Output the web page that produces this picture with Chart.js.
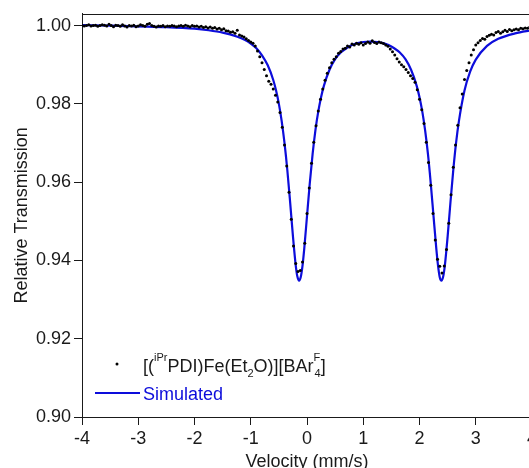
<!DOCTYPE html>
<html>
<head>
<meta charset="utf-8">
<script src="https://cdn.jsdelivr.net/npm/chart.js@4"></script>
<style>
  html, body { margin: 0; padding: 0; background: #fff; overflow: hidden; }
  #wrap { width: 529px; height: 468px; overflow: hidden; }
  canvas { display: block; }
</style>
</head>
<body>
<div id="wrap"><canvas id="moss" width="560" height="480"></canvas></div>
<script>
// ─────────────────────────────
// DATA
// ─────────────────────────────
const velocity = [
  -4.00,-3.96,-3.92,-3.88,-3.84,-3.80,-3.76,-3.72,-3.68,-3.64,
  -3.60,-3.56,-3.52,-3.48,-3.44,-3.40,-3.36,-3.32,-3.28,-3.24,
  -3.20,-3.16,-3.12,-3.08,-3.04,-3.00,-2.96,-2.92,-2.88,-2.84,
  -2.80,-2.76,-2.72,-2.68,-2.64,-2.60,-2.56,-2.52,-2.48,-2.44,
  -2.40,-2.36,-2.32,-2.28,-2.24,-2.20,-2.16,-2.12,-2.08,-2.04,
  -2.00,-1.96,-1.92,-1.88,-1.84,-1.80,-1.76,-1.72,-1.68,-1.64,
  -1.60,-1.56,-1.52,-1.48,-1.44,-1.40,-1.36,-1.32,-1.28,-1.24,
  -1.20,-1.16,-1.12,-1.08,-1.04,-1.00,-0.96,-0.92,-0.88,-0.84,
  -0.80,-0.76,-0.72,-0.68,-0.64,-0.60,-0.56,-0.52,-0.48,-0.44,
  -0.40,-0.36,-0.32,-0.28,-0.24,-0.20,-0.16,-0.12,-0.08,-0.04,
   0.00, 0.04, 0.08, 0.12, 0.16, 0.20, 0.24, 0.28, 0.32, 0.36,
   0.40, 0.44, 0.48, 0.52, 0.56, 0.60, 0.64, 0.68, 0.72, 0.76,
   0.80, 0.84, 0.88, 0.92, 0.96, 1.00, 1.04, 1.08, 1.12, 1.16,
   1.20, 1.24, 1.28, 1.32, 1.36, 1.40, 1.44, 1.48, 1.52, 1.56,
   1.60, 1.64, 1.68, 1.72, 1.76, 1.80, 1.84, 1.88, 1.92, 1.96,
   2.00, 2.04, 2.08, 2.12, 2.16, 2.20, 2.24, 2.28, 2.32, 2.36,
   2.40, 2.44, 2.48, 2.52, 2.56, 2.60, 2.64, 2.68, 2.72, 2.76,
   2.80, 2.84, 2.88, 2.92, 2.96, 3.00, 3.04, 3.08, 3.12, 3.16,
   3.20, 3.24, 3.28, 3.32, 3.36, 3.40, 3.44, 3.48, 3.52, 3.56,
   3.60, 3.64, 3.68, 3.72, 3.76, 3.80, 3.84, 3.88, 3.92, 3.96,
   4.00
];

const transmission = [
  1.0001,0.9999,1.0000,1.0002,0.9999,1.0000,1.0001,0.9998,1.0000,1.0002,
  1.0001,0.9999,1.0003,1.0000,0.9997,1.0001,1.0000,0.9998,1.0002,0.9999,
  0.9996,1.0000,0.9999,1.0001,0.9997,0.9999,1.0002,1.0000,0.9998,1.0003,
  1.0005,1.0000,0.9998,0.9996,0.9999,0.9998,1.0000,0.9997,0.9999,0.9998,
  1.0000,0.9999,0.9997,0.9999,1.0000,0.9998,1.0001,0.9999,0.9997,1.0000,
  0.9998,0.9999,0.9996,0.9998,0.9995,0.9997,0.9994,0.9996,0.9993,0.9995,
  0.9991,0.9993,0.9989,0.9992,0.9987,0.9986,0.9983,0.9984,0.9980,0.9988,
  0.9976,0.9973,0.9971,0.9966,0.9962,0.9958,0.9955,0.9948,0.9935,0.9920,
  0.9905,0.9888,0.9872,0.9858,0.9850,0.9838,0.9822,0.9805,0.9778,0.9740,
  0.9695,0.9641,0.9574,0.9505,0.9437,0.9392,0.9372,0.9374,0.9396,0.9444,
  0.9520,0.9585,0.9648,0.9702,0.9744,0.9782,0.9812,0.9838,0.9860,0.9878,
  0.9892,0.9905,0.9914,0.9920,0.9929,0.9934,0.9940,0.9942,0.9948,0.9945,
  0.9953,0.9950,0.9955,0.9952,0.9956,0.9950,0.9954,0.9958,0.9955,0.9961,
  0.9957,0.9954,0.9958,0.9956,0.9954,0.9950,0.9947,0.9940,0.9933,0.9925,
  0.9915,0.9907,0.9900,0.9895,0.9888,0.9880,0.9872,0.9865,0.9855,0.9836,
  0.9812,0.9785,0.9750,0.9702,0.9650,0.9592,0.9520,0.9452,0.9403,0.9385,
  0.9368,0.9386,0.9428,0.9495,0.9568,0.9638,0.9695,0.9745,0.9790,0.9825,
  0.9862,0.9885,0.9905,0.9925,0.9938,0.9950,0.9956,0.9962,0.9967,0.9965,
  0.9972,0.9975,0.9978,0.9976,0.9982,0.9985,0.9980,0.9984,0.9988,0.9985,
  0.9990,0.9987,0.9989,0.9991,0.9989,0.9993,0.9992,0.9994,0.9993,0.9996,
  0.9995
];

// simulated fit (doublet)
const simVelocity = [
  -4.0,-3.5,-3.0,-2.5,-2.0,-1.75,-1.5,-1.25,-1.1,-1.0,-0.9,-0.8,-0.7,-0.6,-0.55,
  -0.5,-0.45,-0.4,-0.35,-0.3,-0.25,-0.2,-0.17,-0.14,-0.11,-0.08,-0.05,0.0,0.05,
  0.1,0.15,0.2,0.25,0.3,0.4,0.5,0.6,0.7,0.8,0.9,1.0,1.125,1.25,1.35,1.45,1.55,
  1.65,1.75,1.85,1.95,2.0,2.05,2.1,2.15,2.2,2.25,2.3,2.33,2.36,2.39,2.42,2.45,
  2.5,2.55,2.6,2.65,2.7,2.8,2.9,3.0,3.2,3.4,3.7,4.0
];

const simTransmission = [
  1.0001,1.0000,0.9998,0.9996,0.9992,0.9988,0.9982,0.9972,0.9963,0.9954,0.9942,0.9924,0.9899,0.9861,0.9834,
  0.9800,0.9756,0.9700,0.9631,0.9549,0.9462,0.9387,0.9358,0.9348,0.9358,0.9386,0.9428,0.9513,0.9598,
  0.9672,0.9733,0.9780,0.9817,0.9846,0.9887,0.9914,0.9931,0.9942,0.9950,0.9955,0.9958,0.9959,0.9958,0.9955,0.9950,0.9942,
  0.9931,0.9914,0.9887,0.9846,0.9817,0.9780,0.9732,0.9672,0.9597,0.9512,0.9428,0.9386,0.9357,0.9348,0.9358,0.9386,
  0.9461,0.9548,0.9630,0.9700,0.9755,0.9834,0.9882,0.9913,0.9948,0.9966,0.9980,0.9988
];

const yTicks = [0.90, 0.92, 0.94, 0.96, 0.98, 1.00];
const xTicks = [-4, -3, -2, -1, 0, 1, 2, 3, 4];

const legendSample = [
  { t: "[(", k: "n" }, { t: "iPr", k: "sup" }, { t: "PDI)Fe(Et", k: "n" },
  { t: "2", k: "sub" }, { t: "O)][BAr", k: "n" }, { t: "F", k: "sup" },
  { t: "4", k: "sub", stack: true }, { t: "]", k: "n" }
];
const legendFit = "Simulated";

// ─────────────────────────────
// STYLE
// ─────────────────────────────
const FONT = "'Liberation Sans', Arial, sans-serif";
const INK = "#1a1a1a";
const BLUE = "#0d0ddb";

// ─────────────────────────────
// PLUGINS: frame + legend with sub/superscripts
// ─────────────────────────────
function drawRich(ctx, parts, x, y) {
  let prevX = x;
  parts.forEach(p => {
    const small = p.k !== "n";
    ctx.font = (small ? "11px " : "18px ") + FONT;
    const dy = p.k === "sup" ? -11 : p.k === "sub" ? 5 : 0;
    const startX = p.stack ? prevX + 1 : x;
    ctx.fillText(p.t, startX, y + dy);
    const w = ctx.measureText(p.t).width;
    prevX = startX;
    x = p.stack ? Math.max(x, startX + w) : x + w;
  });
}

const framePlugin = {
  id: "frame",
  afterDraw(chart) {
    const { ctx, chartArea: a } = chart;
    ctx.save();
    ctx.strokeStyle = INK;
    ctx.lineWidth = 1;
    ctx.beginPath();
    ctx.moveTo(a.left, Math.round(a.top) + 0.5);
    ctx.lineTo(a.right, Math.round(a.top) + 0.5);
    ctx.lineTo(a.right, a.bottom);
    ctx.stroke();
    ctx.restore();
  }
};

const legendPlugin = {
  id: "richLegend",
  afterDraw(chart) {
    const { ctx, chartArea: a } = chart;
    ctx.save();
    ctx.textBaseline = "alphabetic";
    ctx.textAlign = "left";

    // data row
    ctx.fillStyle = "#000";
    ctx.beginPath();
    ctx.arc(a.left + 35, a.bottom - 53, 1.5, 0, Math.PI * 2);
    ctx.fill();
    ctx.fillStyle = INK;
    drawRich(ctx, legendSample, a.left + 61, a.bottom - 45);

    // fit row
    ctx.strokeStyle = BLUE;
    ctx.lineWidth = 2;
    ctx.beginPath();
    ctx.moveTo(a.left + 13, a.bottom - 24);
    ctx.lineTo(a.left + 58, a.bottom - 24);
    ctx.stroke();
    ctx.fillStyle = BLUE;
    ctx.font = "18px " + FONT;
    ctx.fillText(legendFit, a.left + 61, a.bottom - 17);
    ctx.restore();
  }
};

// ─────────────────────────────
// CHART
// ─────────────────────────────
const measured = velocity.map((v, i) => ({ x: v, y: transmission[i] }));
const simulated = simVelocity.map((v, i) => ({ x: v, y: simTransmission[i] }));

new Chart(document.getElementById("moss"), {
  type: "scatter",
  data: {
    datasets: [
      {
        label: "measured",
        data: measured,
        pointRadius: 1.5,
        pointBackgroundColor: "#000",
        pointBorderWidth: 0,
        showLine: false
      },
      {
        label: "Simulated",
        data: simulated,
        showLine: true,
        borderColor: BLUE,
        borderWidth: 2.2,
        pointRadius: 0,
        cubicInterpolationMode: "monotone"
      }
    ]
  },
  options: {
    responsive: false,
    animation: false,
    devicePixelRatio: 1,
    layout: { padding: { top: 12, right: 28, left: 0, bottom: 0 } },
    plugins: {
      legend: { display: false },
      tooltip: { enabled: false }
    },
    scales: {
      x: {
        type: "linear",
        min: -4,
        max: 4,
        afterFit(scale) { scale.height = 63; },
        afterBuildTicks(scale) { scale.ticks = xTicks.map(v => ({ value: v })); },
        ticks: {
          color: INK,
          font: { family: FONT, size: 18 },
          padding: 3,
          maxRotation: 0,
          callback: v => String(v)
        },
        grid: { drawOnChartArea: false, tickLength: 8, tickColor: INK },
        border: { color: INK, width: 1 },
        title: {
          display: true,
          text: "Velocity (mm/s)",
          color: INK,
          font: { family: FONT, size: 18 },
          padding: { top: 0, bottom: 7 }
        }
      },
      y: {
        type: "linear",
        min: 0.9,
        max: 1.003,
        afterFit(scale) { scale.width = 82; },
        afterBuildTicks(scale) { scale.ticks = yTicks.map(v => ({ value: v })); },
        ticks: {
          color: INK,
          font: { family: FONT, size: 18 },
          padding: 3,
          callback: v => v.toFixed(2)
        },
        grid: { drawOnChartArea: false, tickLength: 8, tickColor: INK },
        border: { color: INK, width: 1 },
        title: {
          display: true,
          text: "Relative Transmission",
          color: INK,
          font: { family: FONT, size: 18 },
          padding: { top: 11, bottom: 0 }
        }
      }
    }
  },
  plugins: [framePlugin, legendPlugin]
});
</script>
</body>
</html>
